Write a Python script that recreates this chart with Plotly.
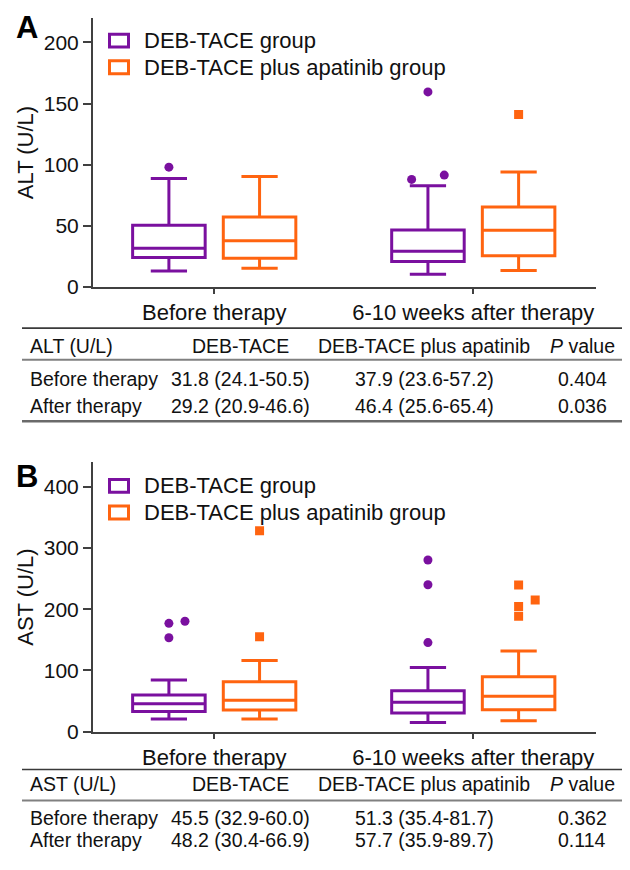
import plotly.graph_objects as go

# ---------------- data ----------------
groups = ["DEB-TACE group", "DEB-TACE plus apatinib group"]
timepoints = ["Before therapy", "6-10 weeks after therapy"]
table_rows = ["Before therapy", "After therapy"]
table_cols = ["DEB-TACE", "DEB-TACE plus apatinib", "<i>P</i> value"]

# ALT (U/L): median, IQR (table), whisker ends and outliers
alt_deb_median = [31.8, 29.2]
alt_deb_q1 = [24.1, 20.9]
alt_deb_q3 = [50.5, 46.6]
alt_deb_low = [13.2, 10.5]
alt_deb_high = [88.7, 82.8]
alt_deb_out = [[98], [88, 91.5, 159.5]]

alt_apa_median = [37.9, 46.4]
alt_apa_q1 = [23.6, 25.6]
alt_apa_q3 = [57.2, 65.4]
alt_apa_low = [15.4, 13.5]
alt_apa_high = [90.3, 94.1]
alt_apa_out = [[], [141]]

alt_p = ["0.404", "0.036"]

# AST (U/L)
ast_deb_median = [45.5, 48.2]
ast_deb_q1 = [32.9, 30.4]
ast_deb_q3 = [60.0, 66.9]
ast_deb_low = [20.5, 15.0]
ast_deb_high = [84.5, 105]
ast_deb_out = [[153.5, 177, 180.5], [145.5, 240, 280.5]]

ast_apa_median = [51.3, 57.7]
ast_apa_q1 = [35.4, 35.9]
ast_apa_q3 = [81.7, 89.7]
ast_apa_low = [20.5, 17.8]
ast_apa_high = [116.3, 132]
ast_apa_out = [[155, 328.5], [188.5, 204.5, 215, 239.5]]

ast_p = ["0.362", "0.114"]

# ---------------- style / layout ----------------
PAGE_OFF = 8               # default body margin of the page
W, H = 630 - PAGE_OFF, 870 - PAGE_OFF
PURPLE = "#7A109F"
ORANGE = "#FF6410"
AXIS = "#404040"
TXT = "#111111"
FONT = "Arial, Liberation Sans, sans-serif"

def px(x):
    return (x - PAGE_OFF) / W

def py(y):
    return 1 - (y - PAGE_OFF) / H

GROUP_OFF = [-0.175, 0.175]
BOX_W = 0.28
# horizontal spread of overlapping outlier symbols (layout only), key = (panel, timepoint, group)
OUT_DX = {
    ("A", 1, 0): [-0.063, 0.063, 0.0],
    ("B", 0, 0): [0.0, 0.0, 0.062],
    ("B", 1, 1): [0.0, 0.0, 0.064, 0.0],
}

panels = [
    dict(key="A", name="ALT (U/L)", xa="x", ya="y",
         top=18, bottom=290.7, yrange=[0, 220], dtick=50,
         stats=[(alt_deb_median, alt_deb_q1, alt_deb_q3, alt_deb_low, alt_deb_high, alt_deb_out),
                (alt_apa_median, alt_apa_q1, alt_apa_q3, alt_apa_low, alt_apa_high, alt_apa_out)],
         p=alt_p, leg_y=[41, 68], label_y=8, label_anchor="top",
         t_top=332.3, t_head=350, t_under=364.3, t_rows=[383.3, 411], t_bottom=426.5),
    dict(key="B", name="AST (U/L)", xa="x2", ya="y2",
         top=468.3, bottom=741, yrange=[0, 440], dtick=100,
         stats=[(ast_deb_median, ast_deb_q1, ast_deb_q3, ast_deb_low, ast_deb_high, ast_deb_out),
                (ast_apa_median, ast_apa_q1, ast_apa_q3, ast_apa_low, ast_apa_high, ast_apa_out)],
         p=ast_p, leg_y=[492, 519], label_y=482.5, label_anchor="middle",
         t_top=779.3, t_head=794, t_under=810.7, t_rows=[828, 851], t_bottom=None),
]

colors = [PURPLE, ORANGE]
symbols = ["circle", "square"]

fig = go.Figure()
shapes = []
annotations = []

for pan in panels:
    for g, (med, q1, q3, lo, hi, outs) in enumerate(pan["stats"]):
        for t in range(len(timepoints)):
            xpos = t + GROUP_OFF[g]
            fig.add_trace(go.Box(
                x=[xpos], q1=[q1[t]], median=[med[t]], q3=[q3[t]],
                lowerfence=[lo[t]], upperfence=[hi[t]],
                orientation="v", width=BOX_W, whiskerwidth=0.5,
                line=dict(color=colors[g], width=3),
                fillcolor="rgba(0,0,0,0)", boxpoints=False,
                showlegend=False, hoverinfo="skip",
                xaxis=pan["xa"], yaxis=pan["ya"]))
            if outs[t]:
                dx = OUT_DX.get((pan["key"], t, g), [0.0] * len(outs[t]))
                fig.add_trace(go.Scatter(
                    x=[xpos + d for d in dx], y=outs[t], mode="markers",
                    marker=dict(symbol=symbols[g], size=9, color=colors[g],
                                line=dict(width=0)),
                    showlegend=False, hoverinfo="skip",
                    xaxis=pan["xa"], yaxis=pan["ya"]))

    # legend (manual)
    for g in range(2):
        yc = pan["leg_y"][g]
        shapes.append(dict(type="rect", xref="paper", yref="paper",
                           x0=px(109.5), x1=px(128.5), y0=py(yc - 6.5), y1=py(yc + 6.5),
                           line=dict(color=colors[g], width=3), fillcolor="rgba(0,0,0,0)"))
        annotations.append(dict(xref="paper", yref="paper", x=px(142), y=py(yc),
                                xanchor="left", yanchor="middle", showarrow=False,
                                text=groups[g], font=dict(size=22, color=TXT, family=FONT)))
    # panel letter
    annotations.append(dict(xref="paper", yref="paper", x=px(27), y=py(pan["label_y"]),
                            xanchor="center", yanchor=pan["label_anchor"], showarrow=False,
                            text="<b>%s</b>" % pan["key"],
                            font=dict(size=31, color="#000000", family=FONT)))

    # table
    shapes.append(dict(type="line", xref="paper", yref="paper",
                       x0=px(22), x1=px(624), y0=py(pan["t_top"]), y1=py(pan["t_top"]),
                       line=dict(color="#3a3a3a", width=1.6)))
    shapes.append(dict(type="line", xref="paper", yref="paper",
                       x0=px(22), x1=px(624), y0=py(pan["t_under"]), y1=py(pan["t_under"]),
                       line=dict(color="#808080", width=2)))
    if pan["t_bottom"] is not None:
        shapes.append(dict(type="line", xref="paper", yref="paper",
                           x0=px(22), x1=px(624), y0=py(pan["t_bottom"]), y1=py(pan["t_bottom"]),
                           line=dict(color="#6a6a6a", width=2.5)))
    col_x = [241, 424, 582]
    tf = dict(size=19.5, color=TXT, family=FONT)
    annotations.append(dict(xref="paper", yref="paper", x=px(28), y=py(pan["t_head"]),
                            xanchor="left", yanchor="middle", showarrow=False,
                            text=pan["name"], font=tf))
    for c, head in enumerate(table_cols):
        annotations.append(dict(xref="paper", yref="paper", x=px(col_x[c]), y=py(pan["t_head"]),
                                xanchor="center", yanchor="middle", showarrow=False,
                                text=head, font=tf))
    (dm, dq1, dq3, _, _, _), (am, aq1, aq3, _, _, _) = pan["stats"]
    for r, rl in enumerate(table_rows):
        yr = py(pan["t_rows"][r])
        cells = ["%.1f (%.1f-%.1f)" % (dm[r], dq1[r], dq3[r]),
                 "%.1f (%.1f-%.1f)" % (am[r], aq1[r], aq3[r]),
                 pan["p"][r]]
        annotations.append(dict(xref="paper", yref="paper", x=px(28), y=yr,
                                xanchor="left", yanchor="middle", showarrow=False,
                                text=rl, font=tf))
        for c, cell in enumerate(cells):
            annotations.append(dict(xref="paper", yref="paper", x=px(col_x[c]), y=yr,
                                    xanchor="center", yanchor="middle", showarrow=False,
                                    text=cell, font=tf))

x_range = [-0.468, 1.4726]
xdom = [px(93), px(595.7)]

def xaxis_cfg(anchor):
    return dict(domain=xdom, anchor=anchor, range=x_range, tickmode="array",
                tickvals=list(range(len(timepoints))), ticktext=timepoints,
                showline=True, linecolor=AXIS, linewidth=2, ticks="outside",
                ticklen=5, tickwidth=2, tickcolor=AXIS, showgrid=False, zeroline=False,
                tickfont=dict(size=22, color=TXT, family=FONT), fixedrange=True)

def yaxis_cfg(anchor, pan):
    return dict(domain=[py(pan["bottom"]), py(pan["top"])], anchor=anchor,
                range=pan["yrange"], dtick=pan["dtick"], tick0=0,
                showline=True, linecolor=AXIS, linewidth=2, ticks="outside",
                ticklen=8, tickwidth=2, tickcolor=AXIS, showgrid=False, zeroline=False,
                tickfont=dict(size=21, color=TXT, family=FONT),
                title=dict(text=pan["name"], font=dict(size=22, color=TXT, family=FONT),
                           standoff=4),
                fixedrange=True)

fig.update_layout(
    width=W, height=H, margin=dict(l=0, r=0, t=0, b=0),
    paper_bgcolor="white", plot_bgcolor="white", showlegend=False,
    xaxis=xaxis_cfg("y"), yaxis=yaxis_cfg("x", panels[0]),
    xaxis2=xaxis_cfg("y2"), yaxis2=yaxis_cfg("x2", panels[1]),
    shapes=shapes, annotations=annotations, boxmode="overlay",
)

fig.write_html("out.html")
